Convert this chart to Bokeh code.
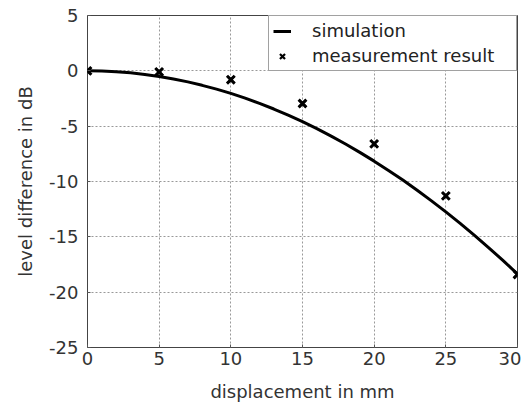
from bokeh.plotting import figure
from bokeh.models import Range1d, FixedTicker, Legend, LegendItem
from bokeh.embed import file_html
from bokeh.resources import INLINE

# simulation curve
sim_x = [0, 1, 2, 3, 4, 5, 6, 7, 8, 9, 10, 11, 12, 13, 14, 15, 16, 17, 18, 19, 20,
         21, 22, 23, 24, 25, 26, 27, 28, 29, 30]
sim_y = [0, -0.02, -0.08, -0.18, -0.33, -0.51, -0.73, -1.0, -1.31, -1.65, -2.04,
         -2.47, -2.94, -3.45, -4.0, -4.59, -5.22, -5.9, -6.61, -7.37, -8.16,
         -9.0, -9.87, -10.79, -11.75, -12.75, -13.79, -14.87, -15.99, -17.15, -18.36]

# measurement results
meas_x = [0, 5, 10, 15, 20, 25, 30]
meas_y = [0, -0.1, -0.8, -2.95, -6.6, -11.3, -18.4]

x_ticks = [0, 5, 10, 15, 20, 25, 30]
y_ticks = [5, 0, -5, -10, -15, -20, -25]
y_tick_labels = ["5", "0", "-5", "-10", "-15", "-20", "-25"]

FONT = "DejaVu Sans"

p = figure(width=521, height=404, output_backend="svg", toolbar_location=None,
           x_range=Range1d(0, 30), y_range=Range1d(-25, 5),
           min_border_left=87, min_border_right=4, min_border_top=15, min_border_bottom=51)

r_sim = p.line(sim_x, sim_y, line_color="black", line_width=3)
# thinner-stroke copy of the markers, used for the legend key (hidden under the main markers)
r_meas_key = p.scatter(meas_x, meas_y, marker="x", size=9, line_color="black", line_width=2.2)
r_meas = p.scatter(meas_x, meas_y, marker="x", size=11, line_color="black", line_width=3)

p.xaxis.ticker = FixedTicker(ticks=x_ticks)
p.yaxis.ticker = FixedTicker(ticks=y_ticks)
p.yaxis.major_label_overrides = {t: s for t, s in zip(y_ticks, y_tick_labels)}
for ax in (p.xaxis[0], p.yaxis[0]):
    ax.major_label_text_font = FONT
    ax.major_label_text_font_size = "18px"
    ax.major_label_text_color = "#333333"
    ax.axis_label_text_font = FONT
    ax.axis_label_text_font_size = "18px"
    ax.axis_label_text_font_style = "normal"
    ax.axis_label_text_color = "#333333"
    ax.axis_line_color = None
    ax.major_tick_out = 0
    ax.major_tick_in = 3
    ax.major_tick_line_color = "#555555"
    ax.minor_tick_line_color = None
p.xaxis.axis_label = "displacement in mm"
p.yaxis.axis_label = "level difference in dB"
p.xaxis.major_label_standoff = 4
p.xaxis.axis_label_standoff = 13
p.yaxis.major_label_standoff = 9
p.yaxis.axis_label_standoff = 10

p.grid.grid_line_color = "#999999"
p.grid.grid_line_dash = "2 2"
p.grid.grid_line_width = 1
p.outline_line_color = "#444444"
p.outline_line_width = 1
p.background_fill_color = "white"
p.border_fill_color = "white"

legend = Legend(items=[LegendItem(label="simulation", renderers=[r_sim]),
                       LegendItem(label="measurement result", renderers=[r_meas_key])],
                location="top_right")
legend.label_text_font = FONT
legend.label_text_font_size = "18px"
legend.label_text_color = "#222222"
legend.border_line_color = "#444444"
legend.border_line_width = 1
legend.margin = 0
legend.padding = 4
legend.spacing = 4
legend.glyph_width = 18
legend.glyph_height = 20
legend.label_height = 20
legend.label_width = 200
legend.label_standoff = 21
legend.background_fill_alpha = 1
p.add_layout(legend)

open("out.html", "w").write(file_html(p, INLINE))
